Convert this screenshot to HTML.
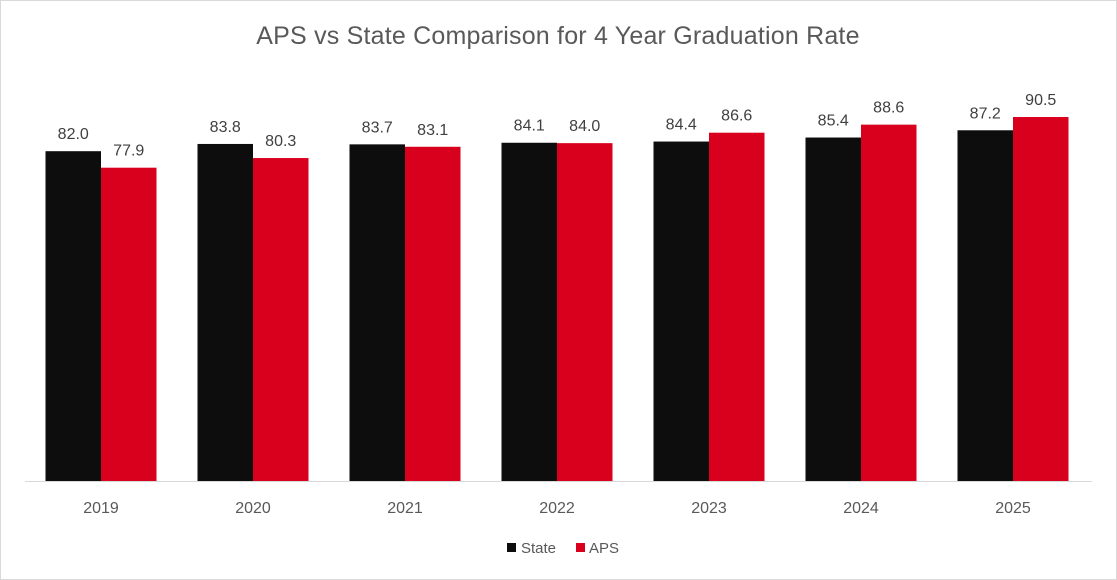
<!DOCTYPE html>
<html><head><meta charset="utf-8"><style>
body{margin:0;background:#fff;}
#wrap{position:relative;width:1117px;height:580px;font-family:"Liberation Sans",sans-serif;}
#frame{position:absolute;left:0;top:0;width:1115px;height:578px;border:1px solid #d9d9d9;}
</style></head><body>
<div id="wrap">
<div id="frame"></div>
<svg id="chart" width="1117" height="580" style="position:absolute;left:0;top:0">
<text x="558" y="44" text-anchor="middle" font-size="25" letter-spacing="0.2" fill="#595959">APS vs State Comparison for 4 Year Graduation Rate</text>
<line x1="25" x2="1092" y1="481.5" y2="481.5" stroke="#d9d9d9" stroke-width="1"/>
<g id="bars"></g>
<g>
<rect x="507" y="543" width="9" height="9" fill="#0d0d0d"/>
<text x="521" y="553" font-size="15" fill="#595959">State</text>
<rect x="576" y="543" width="9" height="9" fill="#d9001e"/>
<text x="589" y="553" font-size="15" fill="#595959">APS</text>
</g>
</svg>
</div>
<script>
const categories=["2019","2020","2021","2022","2023","2024","2025"];
const stateValues=[82.0,83.8,83.7,84.1,84.4,85.4,87.2];
const apsValues=[77.9,80.3,83.1,84.0,86.6,88.6,90.5];
const ns="http://www.w3.org/2000/svg";
const g=document.getElementById("bars");
const base=481, k=4.022, x0=25, step=152, bw=55.5;
function y(v){return base-v*k;}
function cx(i){return x0+step*i+step/2;}
function mk(tag,attrs){const e=document.createElementNS(ns,tag);for(const a in attrs)e.setAttribute(a,attrs[a]);return e;}
categories.forEach((c,i)=>{
  const series=[[stateValues[i],"#0d0d0d","state"],[apsValues[i],"#d9001e","aps"]];
  series.forEach((s,j)=>{
    const x=cx(i)-bw+j*bw;
    const r=mk("rect",{x:x,y:y(s[0]),width:bw,height:base-y(s[0]),fill:s[1]});
    
    
    g.appendChild(r);
    const t=mk("text",{x:x+bw/2,y:y(s[0])-12,"text-anchor":"middle","font-size":"16",fill:"#404040"});
    t.textContent=s[0].toFixed(1);
    
    
    g.appendChild(t);
  });
  const l=mk("text",{x:cx(i),y:513,"text-anchor":"middle","font-size":"16",fill:"#595959"});
  l.textContent=c;
  
  
  g.appendChild(l);
});
</script>
</body></html>
